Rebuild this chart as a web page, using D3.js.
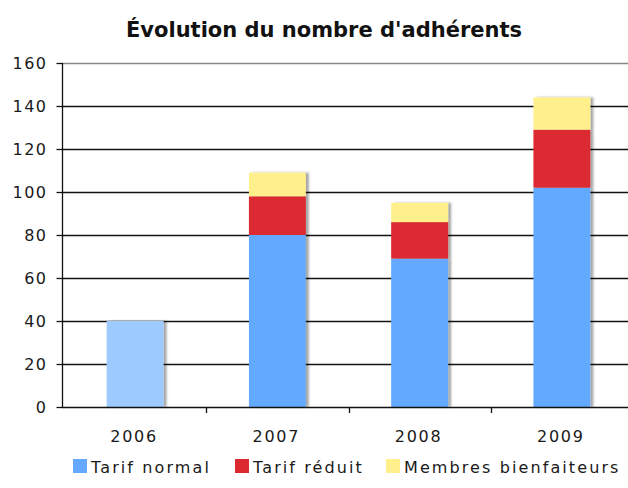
<!DOCTYPE html>
<html><head><meta charset="utf-8">
<script src="https://cdn.jsdelivr.net/npm/d3@7/dist/d3.min.js"></script>
<style>
html,body{margin:0;padding:0;background:#fff;}
svg{display:block;font-family:"DejaVu Sans",Verdana,sans-serif;}
</style></head>
<body><svg id="c" width="628" height="488"></svg>
<script>
const title = "Évolution du nombre d'adhérents";
const years = ["2006","2007","2008","2009"];
const seriesNames = ["Tarif normal","Tarif réduit","Membres bienfaiteurs"];
const tarifNormal = [40, 80, 69, 102];
const tarifReduit = [0, 18, 17, 27];
const bienfaiteurs = [0, 11, 9, 15];
const yTicks = [0,20,40,60,80,100,120,140,160];

const colors = ["#62a9ff","#dc2a31","#fff08c"];
const highlightColor = "#9dcbff";

const svg = d3.select("#c");
const defs = svg.append("defs");
const f = defs.append("filter").attr("id","sh").attr("x","-20%").attr("y","-5%").attr("width","150%").attr("height","110%");
f.append("feGaussianBlur").attr("in","SourceAlpha").attr("stdDeviation",1.2).attr("result","b");
f.append("feOffset").attr("in","b").attr("dx",2.5).attr("dy",0).attr("result","o");
f.append("feComponentTransfer").attr("in","o").attr("result","o2").append("feFuncA").attr("type","linear").attr("slope",0.35);
const m = f.append("feMerge"); m.append("feMergeNode").attr("in","o2"); m.append("feMergeNode").attr("in","SourceGraphic");

const x0 = 62, xEnd = 640;
const y = d3.scaleLinear().domain([0,160]).range([407,63]);
const x = d3.scaleBand().domain(years).range([64,633]).paddingInner(0.6).paddingOuter(0.3);

// gridlines
svg.append("g").selectAll("line").data(yTicks.filter(d=>d>0)).join("line")
  .attr("x1",x0).attr("x2",xEnd).attr("y1",d=>y(d)+0.5).attr("y2",d=>y(d)+0.5)
  .attr("stroke",d=>d===160?"#888":"#111").attr("stroke-width",1.3);

// bars
const stackData = years.map((yr,i)=>({year:yr, v:[tarifNormal[i],tarifReduit[i],bienfaiteurs[i]]}));
const gb = svg.append("g");
stackData.forEach((d,i)=>{
  const g = gb.append("g").attr("filter","url(#sh)");
  let base = 0;
  d.v.forEach((v,k)=>{
    if(v>0){
      g.append("rect").attr("x",x(d.year)).attr("width",x.bandwidth())
        .attr("y",y(base+v)).attr("height",y(base)-y(base+v))
        .attr("fill", (k===0 && d.v[1]===0 && d.v[2]===0) ? highlightColor : colors[k]);
    }
    base += v;
  });
});

// y axis
const ya = svg.append("g").attr("transform",`translate(${x0+0.5},0)`)
  .call(d3.axisLeft(y).tickValues(yTicks).tickSize(6).tickSizeOuter(0));
ya.select(".domain").attr("stroke","#111").attr("stroke-width",1.3).attr("d",`M0,${y(160)}V${y(0)+0.5}`);
ya.selectAll(".tick line").attr("stroke","#111").attr("stroke-width",1.3);
ya.selectAll(".tick text").attr("x",-15).attr("font-size",16).attr("letter-spacing",1.5)
  .attr("fill","#1a1a1a").attr("font-family","DejaVu Sans");

// x axis baseline and ticks at category boundaries
svg.append("line").attr("x1",x0).attr("x2",xEnd).attr("y1",y(0)+0.5).attr("y2",y(0)+0.5).attr("stroke","#111").attr("stroke-width",1.4);
const step = x.step();
svg.append("g").selectAll("line").data(years.slice(1)).join("line")
  .attr("x1",d=>Math.round(x(d)-step*x.paddingInner()/2)+0.5).attr("x2",d=>Math.round(x(d)-step*x.paddingInner()/2)+0.5)
  .attr("y1",y(0)).attr("y2",y(0)+6).attr("stroke","#111").attr("stroke-width",1.3);
svg.append("g").selectAll("text").data(years).join("text")
  .attr("x",d=>x(d)+x.bandwidth()/2-1).attr("y",442)
  .attr("text-anchor","middle").attr("font-size",16).attr("letter-spacing",1.8).attr("fill","#1a1a1a")
  .text(d=>d);

// title
svg.append("text").attr("x",324).attr("y",37).attr("text-anchor","middle")
  .attr("font-size",21).attr("font-weight","bold").attr("fill","#111").text(title);

// legend
const legX = [73, 235, 386];
const lg = svg.append("g");
seriesNames.forEach((n,i)=>{
  lg.append("rect").attr("x",legX[i]).attr("y",459).attr("width",14).attr("height",14).attr("fill",colors[i]);
  lg.append("text").attr("x",legX[i]+18).attr("y",473).attr("font-size",16).attr("letter-spacing",2.1)
    .attr("fill","#1a1a1a").text(n);
});
</script></body></html>
